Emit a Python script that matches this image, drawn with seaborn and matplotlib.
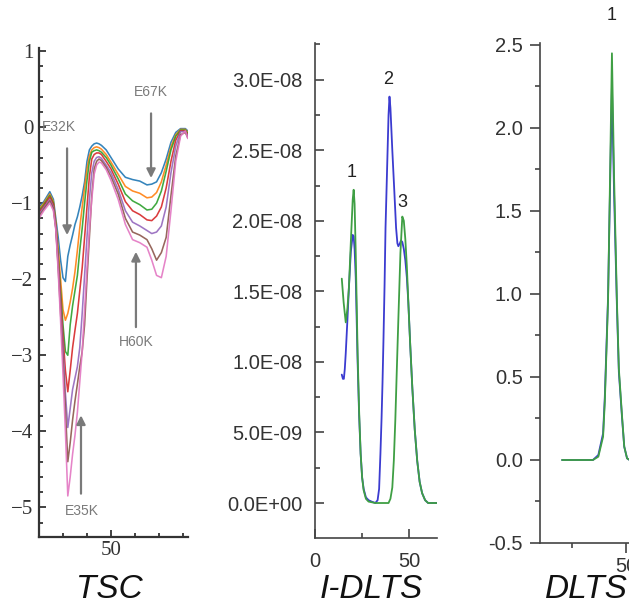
import numpy as np
import pandas as pd
import matplotlib
matplotlib.use("Agg")
import matplotlib.pyplot as plt
from matplotlib.ticker import MultipleLocator, FixedLocator, FuncFormatter
import seaborn as sns

# ---------------- TSC panel data ----------------
tsc_T = [20, 22, 24.5, 26,
         27, 28, 29, 30, 31, 32, 33, 34, 35, 36, 37, 38, 39, 40, 41, 42,
         43, 44, 45, 46,
         48, 50, 53, 56, 59, 62, 65, 67, 69, 71, 73, 75, 77, 79, 81, 82]

tsc_c1 = [-1.05, -0.98, -0.85, -0.95,
          -1.2, -1.45, -1.75, -1.98, -2.03, -1.7, -1.55, -1.42, -1.28, -1.18, -1.05, -0.9, -0.72, -0.45, -0.3, -0.25,
          -0.22, -0.21, -0.22, -0.24,
          -0.3, -0.4, -0.55, -0.66, -0.69, -0.71, -0.76, -0.75, -0.72, -0.6, -0.42, -0.2, -0.07, -0.02, -0.02, -0.05]
tsc_c2 = [-1.08, -1.0, -0.88, -0.98,
          -1.25, -1.6, -2.0, -2.4, -2.54, -2.45, -2.3, -2.12, -1.9, -1.62, -1.32, -1.05, -0.8, -0.55, -0.38, -0.3,
          -0.27, -0.26, -0.27, -0.29,
          -0.36, -0.46, -0.62, -0.78, -0.84, -0.87, -0.93, -0.92, -0.86, -0.72, -0.5, -0.26, -0.1, -0.03, -0.03, -0.07]
tsc_c3 = [-1.1, -1.02, -0.9, -1.0,
          -1.28, -1.7, -2.15, -2.6, -2.95, -3.0, -2.6, -2.35, -2.15, -1.95, -1.62, -1.33, -1.0, -0.7, -0.45, -0.33,
          -0.31, -0.3, -0.31, -0.33,
          -0.4, -0.5, -0.68, -0.88, -0.97, -1.02, -1.09, -1.08, -1.0, -0.84, -0.58, -0.3, -0.12, -0.04, -0.04, -0.08]
tsc_c4 = [-1.12, -1.04, -0.92, -1.02,
          -1.3, -1.75, -2.25, -2.75, -3.2, -3.48, -3.2, -2.9, -2.67, -2.45, -2.15, -1.85, -1.45, -1.05, -0.65, -0.42,
          -0.36, -0.34, -0.34, -0.36,
          -0.45, -0.55, -0.75, -0.98, -1.1, -1.15, -1.22, -1.23, -1.17, -1.05, -0.8, -0.45, -0.17, -0.05, -0.05, -0.1]
tsc_c5 = [-1.15, -1.06, -0.95, -1.05,
          -1.32, -1.8, -2.35, -2.9, -3.5, -3.95, -3.7, -3.45, -3.3, -3.15, -2.9, -2.45, -1.95, -1.45, -0.95, -0.6,
          -0.45, -0.4, -0.39, -0.41,
          -0.5, -0.6, -0.82, -1.1, -1.25, -1.3, -1.36, -1.4, -1.38, -1.3, -1.05, -0.6, -0.25, -0.06, -0.06, -0.12]
tsc_c6 = [-1.17, -1.08, -0.97, -1.07,
          -1.33, -1.85, -2.45, -3.05, -3.7, -4.4, -4.15, -3.85, -3.6, -3.38, -3.15, -2.95, -2.6, -2.0, -1.45, -0.9,
          -0.55, -0.45, -0.42, -0.44,
          -0.53, -0.65, -0.88, -1.2, -1.38, -1.42, -1.48, -1.6, -1.75, -1.65, -1.45, -0.9, -0.38, -0.1, -0.07, -0.14]
tsc_c7 = [-1.2, -1.1, -1.0, -1.1,
          -1.35, -1.9, -2.55, -3.25, -4.0, -4.85, -4.6, -4.3, -4.05, -3.75, -3.35, -2.95, -2.4, -1.85, -1.35, -0.95,
          -0.62, -0.5, -0.46, -0.47,
          -0.56, -0.7, -0.95, -1.28, -1.48, -1.52, -1.58, -1.75, -1.95, -1.98, -1.7, -1.1, -0.45, -0.12, -0.05, -0.15]
tsc_curves = [tsc_c1, tsc_c2, tsc_c3, tsc_c4, tsc_c5, tsc_c6, tsc_c7]
tsc_names = ["c1", "c2", "c3", "c4", "c5", "c6", "c7"]
tsc_colors = ["#1f77b4", "#ff7f0e", "#2ca02c", "#d62728", "#9467bd", "#8c564b", "#e377c2"]

# ---------------- I-DLTS panel data (units of 1e-8) ----------------
idlts_green_T = [14.2, 15.2, 16.3, 17.2, 18, 19, 20, 20.5, 21, 21.6, 22.6, 23.4, 24.2, 25, 25.8, 27, 28.4,
                 32, 36, 39, 40, 41, 41.8, 42.6, 43.4, 44.2, 45.3, 46.3, 47.1, 47.9, 48.7, 49.5, 50.5,
                 51.6, 52.9, 54.2, 55.5, 56.8, 58.4, 60, 65]
idlts_green_v = [1.59, 1.42, 1.28, 1.38, 1.53, 1.85, 2.15, 2.22, 2.12, 1.77, 1.06, 0.65, 0.35, 0.18, 0.09, 0.03, 0.01,
                 0.0, 0.0, 0.0, 0.03, 0.11, 0.3, 0.59, 0.95, 1.3, 1.77, 2.03, 2.0, 1.87, 1.68, 1.42, 1.12,
                 0.82, 0.52, 0.3, 0.15, 0.07, 0.02, 0.0, 0.0]
idlts_blue_T = [14.2, 14.8, 15.3, 15.8, 16.3, 17.2, 18, 19, 20, 20.5, 21, 21.6, 22.6, 23.4, 24.2, 25, 25.8, 27,
                28.4, 30, 32, 33.2, 34, 34.7, 35.3, 35.8, 36.3, 36.9, 37.4, 38.4, 39, 39.5, 40, 41, 42.1,
                43, 43.7, 44.2, 45, 45.6, 46.3, 47.1, 47.9, 48.7, 49.5, 50.5, 51.6, 52.9, 54.2, 55.5,
                56.8, 58.4, 60, 65]
idlts_blue_v = [0.91, 0.88, 0.88, 0.95, 1.06, 1.3, 1.53, 1.78, 1.9, 1.89, 1.8, 1.6, 1.0, 0.62, 0.35, 0.18, 0.1, 0.04,
                0.02, 0.01, 0.0, 0.02, 0.1, 0.35, 0.6, 0.85, 1.15, 1.55, 1.95, 2.45, 2.75, 2.88, 2.8, 2.5, 2.2,
                1.95, 1.84, 1.82, 1.84, 1.86, 1.85, 1.8, 1.72, 1.6, 1.42, 1.12, 0.82, 0.52, 0.3, 0.15,
                0.07, 0.02, 0.0, 0.0]
idlts_labels = ["1", "2", "3"]
idlts_label_T = [19.5, 38.9, 46.3]
idlts_label_v = [2.34, 3.0, 2.13]

# ---------------- DLTS panel data ----------------
dlts_T = [20.2, 34.5, 37, 39.2, 40, 41, 41.5, 42.3, 43.3, 44.3, 45.6, 46.5, 48, 49, 50.3, 51.5]
dlts_green = [0.0, 0.0, 0.02, 0.14, 0.35, 0.75, 0.96, 1.6, 2.45, 1.7, 0.96, 0.55, 0.26, 0.08, 0.01, 0.0]
dlts_blue = [0.0, 0.0, 0.03, 0.16, 0.38, 0.78, 0.98, 1.55, 2.25, 1.6, 0.93, 0.53, 0.25, 0.08, 0.01, 0.0]

panel_titles = ["TSC", "I-DLTS", "DLTS"]

# ---------------- style ----------------
sns.set_style("ticks")
plt.rcParams['font.family'] = ['Liberation Sans', 'DejaVu Sans']

W, H = 629, 605
fig = plt.figure(figsize=(W / 100, H / 100), dpi=100)

def box(l, r, t, b):
    return [l / W, 1 - b / H, (r - l) / W, (b - t) / H]

ax1 = fig.add_axes(box(39, 188, 48, 537))
ax2 = fig.add_axes(box(315, 437, 43, 538))
ax3 = fig.add_axes(box(540, 629, 43, 543))

# ---- TSC ----
tsc_df = pd.DataFrame({
    "T": np.tile(tsc_T, len(tsc_curves)),
    "val": np.concatenate([np.array(c) for c in tsc_curves]),
    "curve": np.repeat(tsc_names, len(tsc_T)),
})
sns.lineplot(data=tsc_df, x="T", y="val", hue="curve", palette=tsc_colors, legend=False,
             estimator=None, sort=False, linewidth=1.15, alpha=0.9, ax=ax1)
ax1.set_xlim(20, 82.1)
ax1.set_ylim(-5.39, 1.04)
ax1.xaxis.set_major_locator(MultipleLocator(50))
ax1.xaxis.set_minor_locator(MultipleLocator(10))
ax1.yaxis.set_major_locator(MultipleLocator(1))
ax1.yaxis.set_minor_locator(MultipleLocator(0.2))
ax1.tick_params(which="both", direction="in", width=1.3, color="#333333",
                labelsize=15, labelcolor="#333333", labelfontfamily="Liberation Serif")
ax1.tick_params(which="major", length=5)
ax1.tick_params(which="minor", length=3)
ax1.tick_params(axis="y", pad=4)
ax1.tick_params(axis="x", pad=3)
for s in ["top", "right"]:
    ax1.spines[s].set_visible(False)
for s in ["left", "bottom"]:
    ax1.spines[s].set_linewidth(1.6)
    ax1.spines[s].set_color("#333333")
ax1.set_xlabel("")
ax1.set_ylabel("")

arrow_kw = dict(arrowstyle="-|>", color="#7a7a7a", lw=1.6, mutation_scale=13, shrinkA=0, shrinkB=0)
txt_kw = dict(color="#7a7a7a", fontsize=10, fontfamily="Liberation Sans")
ax1.text(21.3, 0.0, "E32K", ha="left", va="center", **txt_kw)
ax1.annotate("", xy=(31.7, -1.42), xytext=(31.7, -0.28), arrowprops=arrow_kw)
ax1.text(66.7, 0.46, "E67K", ha="center", va="center", **txt_kw)
ax1.annotate("", xy=(66.7, -0.67), xytext=(66.7, 0.18), arrowprops=arrow_kw)
ax1.text(60.4, -2.83, "H60K", ha="center", va="center", **txt_kw)
ax1.annotate("", xy=(60.4, -1.64), xytext=(60.4, -2.63), arrowprops=arrow_kw)
ax1.text(37.9, -5.05, "E35K", ha="center", va="center", **txt_kw)
ax1.annotate("", xy=(37.5, -3.79), xytext=(37.5, -4.82), arrowprops=arrow_kw)

# ---- I-DLTS ----
green_c = "#3f9f44"
blue_c = "#3b3bd0"
idlts_df_g = pd.DataFrame({"T": idlts_green_T, "val": np.array(idlts_green_v) * 1e-8})
idlts_df_b = pd.DataFrame({"T": idlts_blue_T, "val": np.array(idlts_blue_v) * 1e-8})
sns.lineplot(data=idlts_df_b, x="T", y="val", color=blue_c, linewidth=1.3, estimator=None, sort=False, ax=ax2)
sns.lineplot(data=idlts_df_g, x="T", y="val", color=green_c, linewidth=1.3, estimator=None, sort=False, ax=ax2)
for lbl, t, v in zip(idlts_labels, idlts_label_T, idlts_label_v):
    ax2.text(t, v * 1e-8, lbl, ha="center", va="center", fontsize=13, color="#222222")
ax2.set_xlim(0, 64.7)
ax2.set_ylim(-0.248e-8, 3.26e-8)
ax2.xaxis.set_major_locator(FixedLocator([0, 50]))
ax2.xaxis.set_minor_locator(FixedLocator([25]))
ax2.yaxis.set_major_locator(FixedLocator([0, 0.5e-8, 1.0e-8, 1.5e-8, 2.0e-8, 2.5e-8, 3.0e-8]))
ax2.yaxis.set_minor_locator(FixedLocator([0.25e-8, 0.75e-8, 1.25e-8, 1.75e-8, 2.25e-8, 2.75e-8, 3.25e-8]))
ax2.yaxis.set_major_formatter(FuncFormatter(lambda v, p: f"{v:.1E}"))
ax2.xaxis.set_major_formatter(FuncFormatter(lambda v, p: f"{v:.0f}"))
ax2.tick_params(which="both", direction="in", width=1.2, color="#444444",
                labelsize=14.5, labelcolor="#333333")
ax2.tick_params(which="major", length=6.5)
ax2.tick_params(which="minor", length=3.6)
ax2.tick_params(axis="y", pad=9)
ax2.tick_params(axis="x", pad=10)
for s in ["top", "right"]:
    ax2.spines[s].set_visible(False)
for s in ["left", "bottom"]:
    ax2.spines[s].set_linewidth(1.2)
    ax2.spines[s].set_color("#444444")
ax2.set_xlabel("")
ax2.set_ylabel("")

# ---- DLTS ----
dlts_df = pd.DataFrame({
    "T": dlts_T * 2,
    "val": dlts_blue + dlts_green,
    "series": ["blue"] * len(dlts_T) + ["green"] * len(dlts_T),
})
sns.lineplot(data=dlts_df, x="T", y="val", hue="series", palette=[blue_c, green_c], legend=False,
             estimator=None, sort=False, linewidth=1.3, ax=ax3)
ax3.text(43.3, 2.68, "1", ha="center", va="center", fontsize=13, color="#222222", clip_on=False)
ax3.set_xlim(10, 51.2)
ax3.set_ylim(-0.5, 2.512)
ax3.xaxis.set_major_locator(FixedLocator([50]))
ax3.xaxis.set_minor_locator(FixedLocator([25]))
ax3.yaxis.set_major_locator(MultipleLocator(0.5))
ax3.yaxis.set_minor_locator(MultipleLocator(0.25))
ax3.yaxis.set_major_formatter(FuncFormatter(lambda v, p: f"{v:.1f}"))
ax3.tick_params(which="both", direction="out", width=1.2, color="#444444",
                labelsize=14.5, labelcolor="#333333")
ax3.tick_params(which="major", length=7)
ax3.tick_params(which="minor", length=3.6)
ax3.tick_params(axis="y", pad=5.5)
ax3.tick_params(axis="x", pad=3)
for s in ["top", "right"]:
    ax3.spines[s].set_visible(False)
for s in ["left", "bottom"]:
    ax3.spines[s].set_linewidth(1.2)
    ax3.spines[s].set_color("#444444")
ax3.set_xlabel("")
ax3.set_ylabel("")

# ---- panel captions ----
for name, cx in zip(panel_titles, [109, 371, 586]):
    fig.text(cx / W, 1 - 590 / H, name, ha="center", va="center", fontsize=24,
             fontstyle="italic", color="#111111")

fig.savefig("out.png", dpi=100)
